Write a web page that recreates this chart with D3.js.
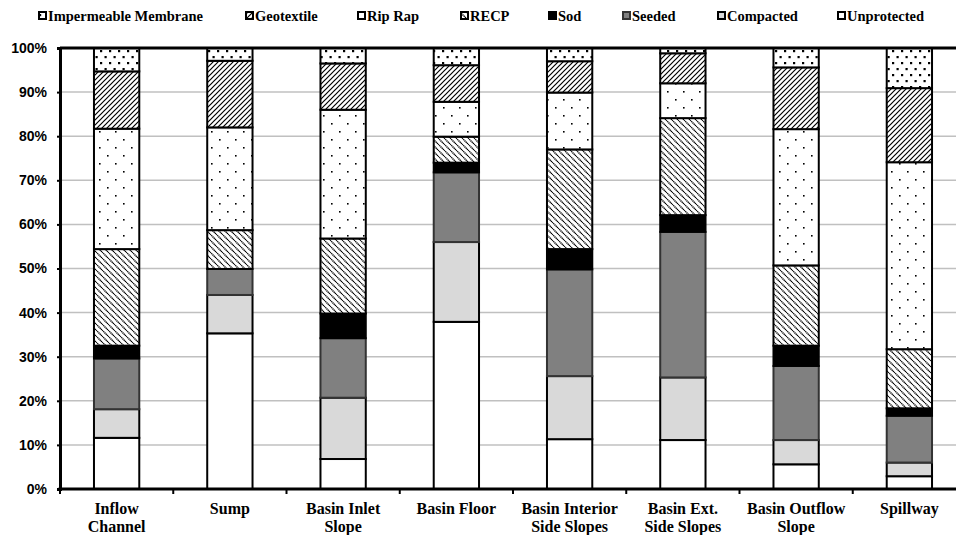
<!DOCTYPE html>
<html>
<head>
<meta charset="utf-8">
<script src="https://cdn.jsdelivr.net/npm/d3@7"></script>
<style>
  html, body { margin: 0; padding: 0; background: #fff; }
  svg { display: block; }
</style>
</head>
<body>
<svg id="chart" width="956" height="535"></svg>
<script>
// ---- data ----
const categories = [
  ["Inflow", "Channel"],
  ["Sump"],
  ["Basin Inlet", "Slope"],
  ["Basin Floor"],
  ["Basin Interior", "Side Slopes"],
  ["Basin Ext.", "Side Slopes"],
  ["Basin Outflow", "Slope"],
  ["Spillway"]
];
const unprotected  = [11.6, 35.3,  6.8, 37.9, 11.3, 11.1,  5.6,  2.9];
const compacted    = [ 6.5,  8.7, 13.9, 18.1, 14.3, 14.2,  5.5,  3.1];
const seeded       = [11.5,  5.9, 13.5, 15.8, 24.2, 33.0, 16.8, 10.6];
const sod          = [ 2.9,  0.0,  5.6,  2.2,  4.6,  3.8,  4.6,  1.7];
const recp         = [21.9,  8.8, 17.0,  5.9, 22.6, 22.0, 18.2, 13.4];
const ripRap       = [27.3, 23.3, 29.2,  7.9, 12.9,  7.9, 30.9, 42.4];
const geotextile   = [13.0, 15.1, 10.5,  8.3,  7.1,  6.8, 14.0, 16.8];
const impermeable  = [ 5.3,  2.9,  3.5,  3.9,  3.0,  1.2,  4.4,  9.1];
const yTicks = [0, 10, 20, 30, 40, 50, 60, 70, 80, 90, 100];

// series, bottom to top
const seriesNames = ["Unprotected", "Compacted", "Seeded", "Sod", "RECP", "Rip Rap", "Geotextile", "Impermeable Membrane"];
const seriesValues = [unprotected, compacted, seeded, sod, recp, ripRap, geotextile, impermeable];
const legendOrder = ["Impermeable Membrane", "Geotextile", "Rip Rap", "RECP", "Sod", "Seeded", "Compacted", "Unprotected"];

const table = categories.map((c, i) => {
  const row = { key: c.join(" ") };
  seriesNames.forEach((s, j) => row[s] = seriesValues[j][i]);
  return row;
});

// ---- drawing ----
const svg = d3.select("#chart");
const defs = svg.append("defs");

function pat(id, w, h, draw) {
  const p = defs.append("pattern").attr("id", id).attr("patternUnits", "userSpaceOnUse")
    .attr("width", w).attr("height", h);
  p.append("rect").attr("width", w).attr("height", h).attr("fill", "#fff");
  draw(p);
}
pat("pImp", 9, 12, p => {
  p.append("rect").attr("x", 1).attr("y", 2).attr("width", 2.2).attr("height", 2.2).attr("fill", "#000");
  p.append("rect").attr("x", 5.5).attr("y", 8).attr("width", 2.2).attr("height", 2.2).attr("fill", "#000");
});
pat("pGeo", 5, 5, p => {
  p.append("path").attr("d", "M0,5 L5,0 M-1,1 L1,-1 M4,6 L6,4")
    .attr("stroke", "#000").attr("stroke-width", 1.2);
});
pat("pRip", 16, 16, p => {
  p.append("rect").attr("x", 3).attr("y", 3).attr("width", 1.6).attr("height", 1.6).attr("fill", "#000");
  p.append("rect").attr("x", 11).attr("y", 11).attr("width", 1.6).attr("height", 1.6).attr("fill", "#000");
});
pat("pRecp", 6, 6, p => {
  p.append("path").attr("d", "M0,0 L6,6 M-1,5 L1,7 M5,-1 L7,1")
    .attr("stroke", "#000").attr("stroke-width", 1.4).attr("stroke-dasharray", "1.2,0.6");
});

const fills = {
  "Impermeable Membrane": "url(#pImp)",
  "Geotextile": "url(#pGeo)",
  "Rip Rap": "url(#pRip)",
  "RECP": "url(#pRecp)",
  "Sod": "#000",
  "Seeded": "#808080",
  "Compacted": "#d9d9d9",
  "Unprotected": "#fff"
};

const x0 = 60, x1 = 966, yTop = 48, yBot = 489;
const x = d3.scaleBand().domain(table.map(d => d.key)).range([x0, x1]).padding(0);
const y = d3.scaleLinear().domain([0, 100]).range([yBot, yTop]);

// gridlines
svg.append("g").selectAll("line").data(yTicks.filter(t => t > 0 && t < 100)).join("line")
  .attr("x1", x0).attr("x2", 956).attr("y1", d => y(d)).attr("y2", d => y(d))
  .attr("stroke", "#c0c0c0").attr("stroke-width", 1.5);

// bars
const stacked = d3.stack().keys(seriesNames)(table);
const barW = x.bandwidth() * 0.4;
const gBars = svg.append("g");
stacked.forEach(layer => {
  gBars.append("g").selectAll("rect").data(layer.filter(d => d[1] - d[0] > 0)).join("rect")
    .attr("x", d => x(d.data.key) + (x.bandwidth() - barW) / 2)
    .attr("width", barW)
    .attr("y", d => y(d[1]))
    .attr("height", d => y(d[0]) - y(d[1]))
    .attr("fill", fills[layer.key])
    .attr("stroke", layer.key === "Seeded" ? "#333" : "#000")
    .attr("stroke-width", 2);
});

// top line at 100%
svg.append("line").attr("x1", x0).attr("x2", 956).attr("y1", y(100)).attr("y2", y(100))
  .attr("stroke", "#000").attr("stroke-width", 3);

// y axis
const yAxis = d3.axisLeft(y).tickValues(yTicks).tickFormat(d => d + "%").tickSize(3).tickPadding(10);
const gy = svg.append("g").attr("transform", `translate(${x0},0)`).call(yAxis);
gy.select(".domain").attr("stroke", "#000").attr("stroke-width", 3);
gy.selectAll(".tick line").attr("stroke", "#000").attr("stroke-width", 2);
gy.selectAll(".tick text").attr("font-family", "'Liberation Sans', Arial, sans-serif")
  .attr("font-weight", "bold").attr("font-size", 14).attr("fill", "#000");

// x axis
svg.append("line").attr("x1", x0 - 1.5).attr("x2", 956).attr("y1", yBot).attr("y2", yBot)
  .attr("stroke", "#000").attr("stroke-width", 3);
const bounds = table.map(d => x(d.key)).concat([x1]);
svg.append("g").selectAll("line").data(bounds).join("line")
  .attr("x1", d => d).attr("x2", d => d).attr("y1", yBot).attr("y2", yBot + 5)
  .attr("stroke", "#000").attr("stroke-width", 2);

const gx = svg.append("g");
table.forEach((d, i) => {
  const t = gx.append("text")
    .attr("x", x(d.key) + x.bandwidth() / 2)
    .attr("y", 514)
    .attr("text-anchor", "middle")
    .attr("font-family", "'Liberation Serif', 'Times New Roman', serif")
    .attr("font-weight", "bold").attr("font-size", 16).attr("fill", "#000");
  categories[i].forEach((line, k) => {
    t.append("tspan").attr("x", x(d.key) + x.bandwidth() / 2).attr("dy", k === 0 ? 0 : 18).text(line);
  });
});

// legend
const legendX = [38, 245, 357, 460, 548, 622, 717, 837];
const gl = svg.append("g");
legendOrder.forEach((name, i) => {
  const g = gl.append("g").attr("transform", `translate(${legendX[i]},0)`);
  g.append("rect").attr("x", 1).attr("y", 12).attr("width", 7).attr("height", 7)
    .attr("fill", fills[name]).attr("stroke", name === "Seeded" ? "#333" : "#000").attr("stroke-width", 2);
  g.append("text").attr("x", 10).attr("y", 21)
    .attr("font-family", "'Liberation Serif', 'Times New Roman', serif")
    .attr("font-weight", "bold").attr("font-size", 14.5).attr("fill", "#000")
    .text(name);
});
</script>
</body>
</html>
